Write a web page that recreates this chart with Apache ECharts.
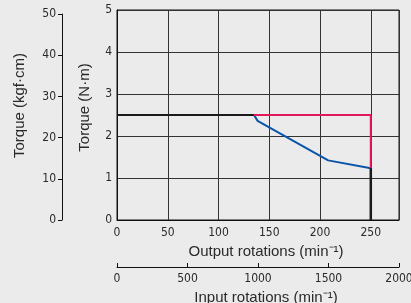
<!DOCTYPE html>
<html>
<head>
<meta charset="utf-8">
<script src="https://cdn.jsdelivr.net/npm/echarts@6/dist/echarts.min.js"></script>
<style>
  html, body { margin: 0; padding: 0; background: #ebebeb; }
  #main { width: 411px; height: 303px; }
</style>
</head>
<body>
<div id="main"></div>
<script>
// output rotations (min-1) vs torque (N·m)
let ratedLine = [[0, 2.5], [135, 2.5]];
let speedTorque = [[135, 2.5], [138.5, 2.36], [208, 1.42], [250, 1.23]];
let limitLine = [[135, 2.5], [250, 2.5], [250, 1.23]];
let cutoffLine = [[250, 1.23], [250, 0]];

let gearRatio = 7.2;
let inputMax = 2000;
let outputMax = inputMax / gearRatio;
let nmMax = 5;
let kgfPerNm = 10.197;
let kgfMax = 50;

// plot box in pixels
let plotTop = 10, plotBottom = 83;
let plotHeight = 303 - plotTop - plotBottom;
// kgf axis only runs up to 50 kgf·cm
let kgfTop = plotTop + plotHeight * (1 - kgfMax / (nmMax * kgfPerNm));

let font = "'Liberation Sans Narrow', 'DejaVu Sans Condensed', sans-serif";
let nameFont = 'Liberation Sans';
let ink = '#2a2a2a';
let lineInk = '#111';

let myChart = echarts.init(document.getElementById('main'));
let option = {
    backgroundColor: '#ebebeb',
    animation: false,
    grid: [{
        left: 117, right: 12, top: plotTop, bottom: plotBottom,
        outerBoundsMode: 'none', containLabel: false,
        show: true, borderColor: lineInk, borderWidth: 1
    }, {
        left: 62, width: 20, top: kgfTop, bottom: plotBottom,
        outerBoundsMode: 'none', containLabel: false
    }],
    xAxis: [{
        type: 'value', min: 0, max: outputMax, interval: 50,
        name: 'Output rotations (min⁻¹)', nameLocation: 'middle', nameGap: 20,
        nameTextStyle: { fontFamily: nameFont, fontSize: 15, color: ink, padding: [0, 0, 0, 16] },
        axisLine: { show: true, onZero: false, lineStyle: { color: lineInk } },
        axisTick: { show: false },
        axisLabel: {
            fontFamily: font, fontSize: 12, color: ink, margin: 7,
            formatter: function (v) { return v % 50 === 0 ? String(v) : ''; }
        },
        splitLine: { show: true, lineStyle: { color: '#333', width: 1 } }
    }, {
        type: 'value', min: 0, max: inputMax, interval: 500, position: 'bottom', offset: 47,
        name: 'Input rotations (min⁻¹)', nameLocation: 'middle', nameGap: 22,
        nameTextStyle: { fontFamily: nameFont, fontSize: 15, color: ink, padding: [0, 0, 0, 16] },
        axisLine: { show: true, onZero: false, lineStyle: { color: lineInk } },
        axisTick: { show: true, inside: true, length: 4, lineStyle: { color: lineInk } },
        axisLabel: {
            fontFamily: font, fontSize: 12, color: ink, margin: 6,
            formatter: function (v) { return String(v); }
        },
        splitLine: { show: false }
    }, {
        gridIndex: 1, type: 'value', min: 0, max: 1, show: false
    }],
    yAxis: [{
        type: 'value', min: 0, max: nmMax, interval: 1,
        name: 'Torque (N·m)', nameLocation: 'middle', nameGap: 25, nameRotate: 90,
        nameTextStyle: { fontFamily: nameFont, fontSize: 15, color: ink, padding: [0, 0, 0, 15] },
        axisLine: { show: true, onZero: false, lineStyle: { color: lineInk } },
        axisTick: { show: false },
        axisLabel: { fontFamily: font, fontSize: 12, color: ink, margin: 5 },
        splitLine: { show: true, lineStyle: { color: '#333', width: 1 } }
    }, {
        gridIndex: 1, type: 'value', min: 0, max: kgfMax, interval: 10, position: 'left',
        name: 'Torque (kgf·cm)', nameLocation: 'middle', nameGap: 35, nameRotate: 90,
        nameTextStyle: { fontFamily: nameFont, fontSize: 15, color: ink, padding: [0, 0, 0, 23] },
        axisLine: { show: true, onZero: false, lineStyle: { color: lineInk } },
        axisTick: { show: true, length: 4, lineStyle: { color: lineInk } },
        axisLabel: { fontFamily: font, fontSize: 12, color: ink, margin: 6 },
        splitLine: { show: false }
    }],
    series: [{
        type: 'line', data: ratedLine, symbol: 'none',
        lineStyle: { color: '#1a1a1a', width: 2 }, z: 3
    }, {
        type: 'line', data: speedTorque, symbol: 'none',
        lineStyle: { color: '#0a55aa', width: 2 }, z: 4
    }, {
        type: 'line', data: limitLine, symbol: 'none',
        lineStyle: { color: '#e2185b', width: 2 }, z: 4
    }, {
        type: 'line', data: cutoffLine, symbol: 'none',
        lineStyle: { color: '#1a1a1a', width: 2.5 }, z: 4
    }]
};
myChart.setOption(option);
</script>
</body>
</html>
